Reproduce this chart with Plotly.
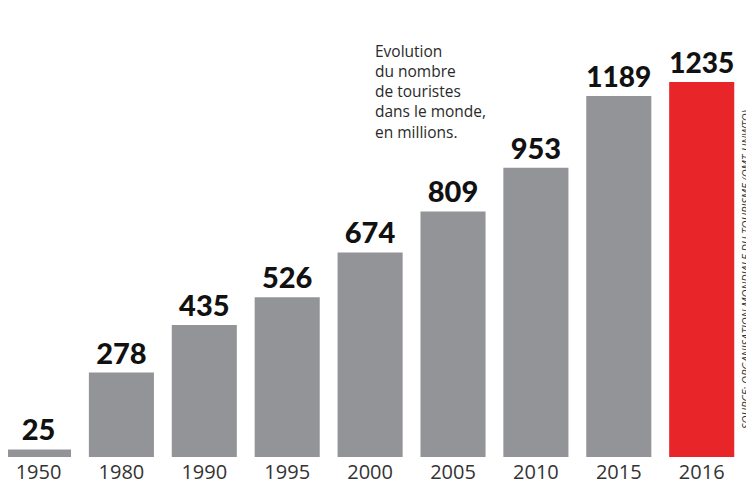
import plotly.graph_objects as go

years = ["1950", "1980", "1990", "1995", "2000", "2005", "2010", "2015", "2016"]
tourists = [25, 278, 435, 526, 674, 809, 953, 1189, 1235]
colors = ["#939497"] * 8 + ["#e8262a"]

W, H = 746, 480
ML, MR, MT, MB = 0, 14, 0, 31
pw = W - ML - MR
ph = H - MT - MB

fig = go.Figure(go.Bar(
    x=years, y=tourists,
    marker=dict(color=colors, line=dict(width=0)),
    text=[str(v) for v in tourists],
    textposition="outside",
    textfont=dict(family="Lato", size=29, color="#111111", weight=900),
    cliponaxis=False,
    width=0.785,
))

fig.update_layout(
    width=W, height=H,
    margin=dict(l=ML, r=MR, t=MT, b=MB, pad=0),
    paper_bgcolor="white", plot_bgcolor="white",
    showlegend=False,
    xaxis=dict(range=[-0.368, 8.462], showgrid=False, showline=False, zeroline=False,
               tickfont=dict(family="Open Sans", size=20, color="#333333"), ticks="",
               ticklabelstandoff=1),
    yaxis=dict(range=[0, 1479], visible=False),
    annotations=[
        dict(text="Evolution<br>du nombre<br>de touristes<br>dans le monde,<br>en millions.",
             x=365 / pw, y=(ph - 30) / ph, xref="paper", yref="paper", showarrow=False,
             xanchor="left", yanchor="top", align="left",
             font=dict(family="Open Sans", size=15.5, color="#2a2a2a")),
        dict(text="<i>SOURCE: ORGANISATION MONDIALE DU TOURISME (OMT-UNWTO)</i>",
             x=737 / pw, y=(ph - 262) / ph, xref="paper", yref="paper",
             showarrow=False, textangle=-90, xanchor="center", yanchor="middle",
             font=dict(family="Open Sans", size=11, color="#333333")),
    ],
)

fig.write_html("out.html")
